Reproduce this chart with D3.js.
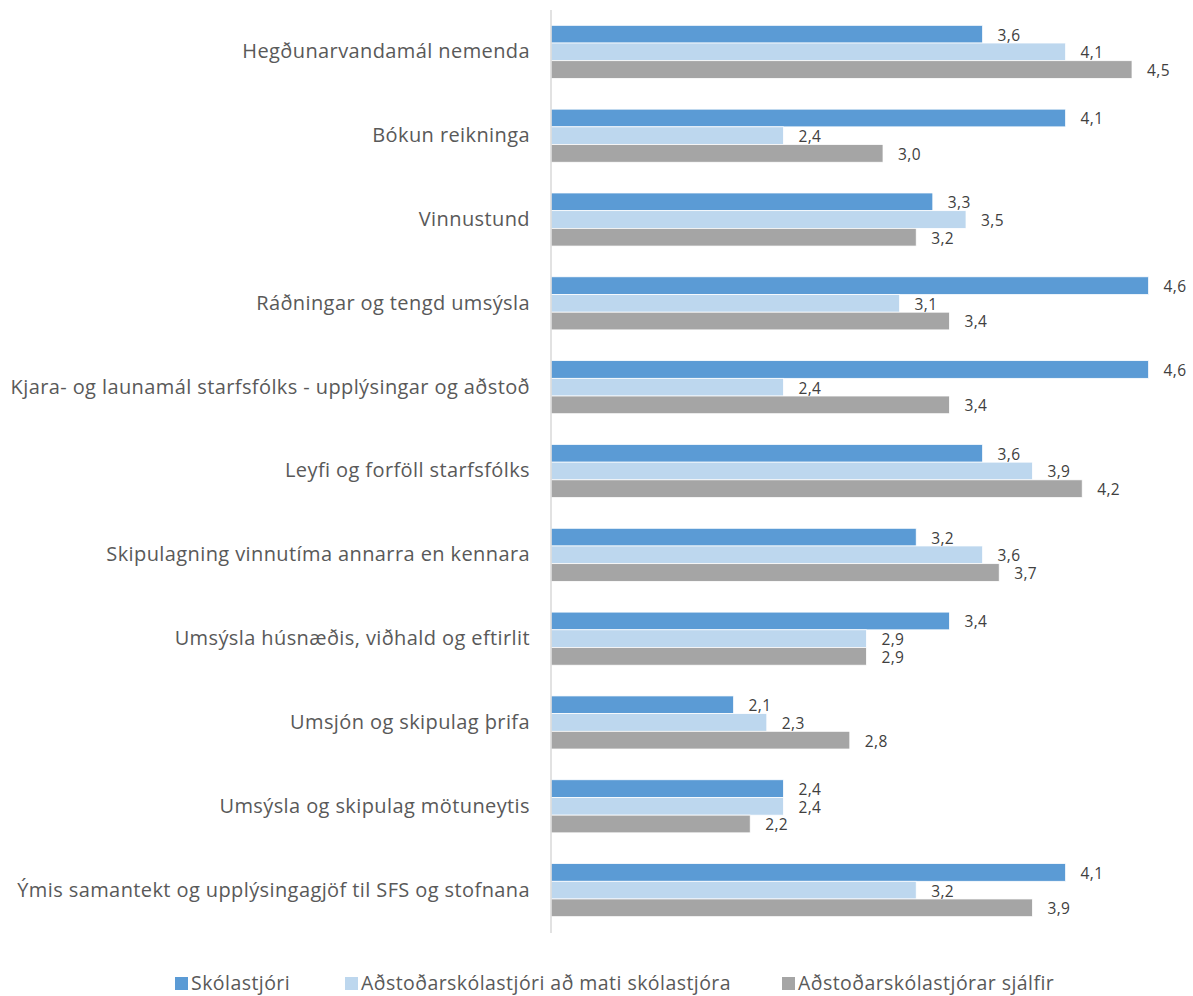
<!DOCTYPE html>
<html>
<head>
<meta charset="utf-8">
<script src="https://cdn.jsdelivr.net/npm/d3@7"></script>
<style>
  html, body { margin: 0; padding: 0; background: #fff; }
  svg { display: block; }
</style>
</head>
<body>
<svg id="chart" width="1193" height="996"></svg>
<script>
// Categories and mean scores per respondent group
const categories = [
  "Hegðunarvandamál nemenda",
  "Bókun reikninga",
  "Vinnustund",
  "Ráðningar og tengd umsýsla",
  "Kjara- og launamál starfsfólks - upplýsingar og aðstoð",
  "Leyfi og forföll starfsfólks",
  "Skipulagning vinnutíma annarra en kennara",
  "Umsýsla húsnæðis, viðhald og eftirlit",
  "Umsjón og skipulag þrifa",
  "Umsýsla og skipulag mötuneytis",
  "Ýmis samantekt og upplýsingagjöf til SFS og stofnana"
];
const seriesNames = [
  "Skólastjóri",
  "Aðstoðarskólastjóri að mati skólastjóra",
  "Aðstoðarskólastjórar sjálfir"
];
const skolastjori      = [3.6, 4.1, 3.3, 4.6, 4.6, 3.6, 3.2, 3.4, 2.1, 2.4, 4.1];
const adstMatSkolastj  = [4.1, 2.4, 3.5, 3.1, 2.4, 3.9, 3.6, 2.9, 2.3, 2.4, 3.2];
const adstSjalfir      = [4.5, 3.0, 3.2, 3.4, 3.4, 4.2, 3.7, 2.9, 2.8, 2.2, 3.9];
const seriesValues = [skolastjori, adstMatSkolastj, adstSjalfir];
const colors = ["#5B9BD5", "#BDD7EE", "#A5A5A5"];
const axisMin = 1, axisMax = 5;
const font = "'Open Sans', 'Noto Sans', sans-serif";

const svg = d3.select("#chart");
const plot = { left: 551, top: 10, bottom: 932 };

const x = d3.scaleLinear().domain([axisMin, axisMax]).range([plot.left, plot.left + 166 * (axisMax - axisMin)]);
const y = d3.scaleBand().domain(categories).range([plot.top, plot.bottom]).paddingInner(0.367).paddingOuter(0.183);
const ySub = d3.scaleBand().domain(d3.range(seriesNames.length)).range([0, y.bandwidth()]);

const rows = categories.map((c, i) => ({ cat: c, vals: seriesValues.map((s, k) => ({ k, v: s[i] })) }));

const groups = svg.append("g").selectAll("g")
  .data(rows).join("g")
  .attr("transform", d => `translate(0,${y(d.cat)})`);

groups.selectAll("rect")
  .data(d => d.vals).join("rect")
  .attr("x", x(axisMin))
  .attr("y", d => ySub(d.k))
  .attr("width", d => x(d.v) - x(axisMin))
  .attr("height", ySub.bandwidth())
  .attr("fill", d => colors[d.k])
  .attr("stroke", "#fff")
  .attr("stroke-width", 0.75);

// value labels just past each bar end
const fmt = v => d3.format(".1f")(v).replace(".", ",");
groups.selectAll("text.val")
  .data(d => d.vals).join("text")
  .attr("class", "val")
  .attr("x", d => x(d.v) + 15)
  .attr("y", d => ySub(d.k) + ySub.bandwidth() / 2 + 1)
  .attr("dy", "0.35em")
  .attr("font-family", font)
  .attr("font-size", 15.5)
  .attr("letter-spacing", 0.4)
  .attr("fill", "#404040")
  .text(d => fmt(d.v));

// vertical category axis line
svg.append("line")
  .attr("x1", plot.left).attr("x2", plot.left)
  .attr("y1", plot.top).attr("y2", plot.bottom + 1)
  .attr("stroke", "#D9D9D9").attr("stroke-width", 1.5);

// category labels
const yAxis = d3.axisLeft(y).tickSize(0).tickPadding(21);
const ag = svg.append("g").attr("transform", `translate(${plot.left},0)`).call(yAxis);
ag.select(".domain").remove();
ag.selectAll("text")
  .attr("font-family", font)
  .attr("font-size", 20)
  .attr("letter-spacing", 0.4)
  .attr("fill", "#595959");

// legend
const legendX = [175, 345, 782];
const lg = svg.append("g").selectAll("g")
  .data(seriesNames).join("g")
  .attr("transform", (d, i) => `translate(${legendX[i]},977)`);
lg.append("rect").attr("width", 13).attr("height", 13).attr("fill", (d, i) => colors[i]);
lg.append("text")
  .attr("x", 16).attr("y", 6).attr("dy", "0.35em")
  .attr("font-family", font)
  .attr("font-size", 19.5)
  .attr("letter-spacing", 0.45)
  .attr("fill", "#595959")
  .text(d => d);
</script>
</body>
</html>
